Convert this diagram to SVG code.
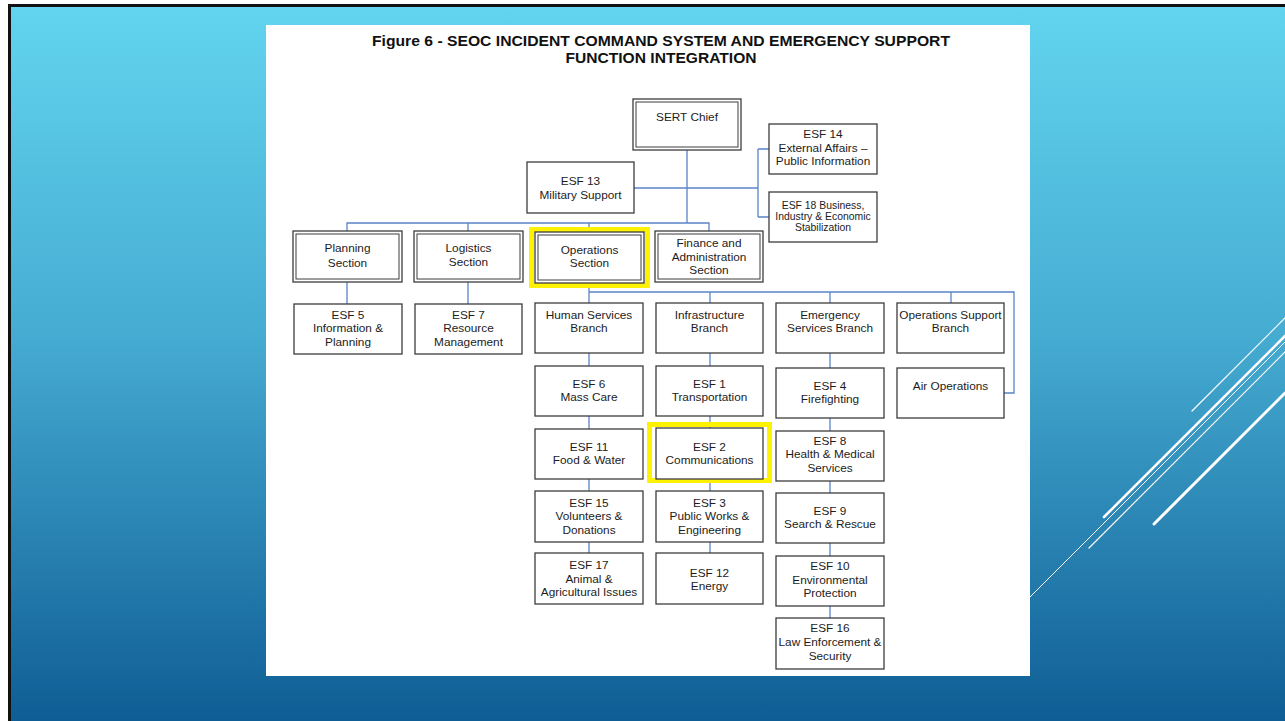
<svg xmlns="http://www.w3.org/2000/svg" width="1285" height="721" viewBox="0 0 1285 721">
<defs>
<linearGradient id="bg" x1="0" y1="0" x2="0" y2="1">
<stop offset="0" stop-color="#62d4ef"/>
<stop offset="0.45" stop-color="#46acd2"/>
<stop offset="1" stop-color="#0d5b93"/>
</linearGradient>
<style>
.box{fill:#fff;stroke:#3c3c3c;stroke-width:1.3}
.inner{fill:none;stroke:#3c3c3c;stroke-width:1}
.conn{fill:none;stroke:#5a84c8;stroke-width:1.3}
.hl{fill:none;stroke:#fff200;stroke-width:5}
text{font-family:"Liberation Sans",Arial,sans-serif;font-size:11.8px;fill:#1c1c1c;text-anchor:middle}
.small{font-size:10.4px}
.title{font-weight:bold;font-size:15px;fill:#111}
.deco{stroke:#fff;fill:none;stroke-linecap:round}
</style>
</defs>
<rect x="0" y="0" width="1285" height="721" fill="#fff"/>
<rect x="8" y="4" width="1285" height="725" fill="#111"/>
<rect x="11" y="7" width="1285" height="725" fill="url(#bg)"/>
<g id="decoration">
<line class="deco" x1="1192" y1="411" x2="1285" y2="318" stroke-width="1.2"/>
<line class="deco" x1="1104" y1="517" x2="1285" y2="336" stroke-width="2.6"/>
<line class="deco" x1="1030" y1="597" x2="1285" y2="342" stroke-width="1"/>
<line class="deco" x1="1089" y1="548" x2="1285" y2="352" stroke-width="1.2"/>
<line class="deco" x1="1154" y1="524" x2="1285" y2="393" stroke-width="3"/>
</g>
<rect x="266" y="25" width="764" height="651" fill="#fff"/>
<g id="title">
<text class="title" x="661" y="46" textLength="578" lengthAdjust="spacingAndGlyphs">Figure 6 - SEOC INCIDENT COMMAND SYSTEM AND EMERGENCY SUPPORT</text>
<text class="title" x="661" y="62.5" textLength="191" lengthAdjust="spacingAndGlyphs">FUNCTION INTEGRATION</text>
</g>
<g id="connectors">
<path class="conn" d="M687 150V223M634 188H758M758 149V217M758 149H769M758 217H769"/>
<path class="conn" d="M347 231V223H709V231M468 223V231M589 223V232"/>
<path class="conn" d="M347 282V304M468 282V304"/>
<path class="conn" d="M589 283V303M589 292H1014V393H1004M710 292V303M830 292V303M951 292V303"/>
<path class="conn" d="M589 353V366M589 416V429M589 479V491M589 542V553"/>
<path class="conn" d="M710 353V366M710 416V428M710 479V491M710 542V553"/>
<path class="conn" d="M830 353V368M830 418V431M830 481V493M830 543V556M830 606V618"/>
</g>
<g id="sert-chief"><rect class="box" x="633" y="99" width="108" height="51"/><rect class="inner" x="636" y="102" width="102" height="45"/><text x="687" y="121">SERT Chief</text></g>
<g id="esf14"><rect class="box" x="769" y="124" width="108" height="50"/><text x="823" y="138">ESF 14</text><text x="823" y="152">External Affairs –</text><text x="823" y="165">Public Information</text></g>
<g id="esf13"><rect class="box" x="527" y="162" width="107" height="51"/><text x="580.5" y="185">ESF 13</text><text x="580.5" y="199">Military Support</text></g>
<g id="esf18"><rect class="box" x="769" y="192" width="108" height="50"/><text class="small" x="823" y="209">ESF 18 Business,</text><text class="small" x="823" y="220">Industry &amp; Economic</text><text class="small" x="823" y="231">Stabilization</text></g>
<g id="planning"><rect class="box" x="293" y="231" width="109" height="51"/><rect class="inner" x="296" y="234" width="103" height="45"/><text x="347.5" y="252">Planning</text><text x="347.5" y="267">Section</text></g>
<g id="logistics"><rect class="box" x="414" y="231" width="109" height="51"/><rect class="inner" x="417" y="234" width="103" height="45"/><text x="468.5" y="252">Logistics</text><text x="468.5" y="266">Section</text></g>
<g id="operations"><rect class="hl" x="531.5" y="229.5" width="116" height="56"/><rect class="box" x="535" y="232" width="109" height="51"/><rect class="inner" x="538" y="235" width="103" height="45"/><text x="589.5" y="254">Operations</text><text x="589.5" y="267">Section</text></g>
<g id="finance"><rect class="box" x="655" y="231" width="108" height="51"/><rect class="inner" x="658" y="234" width="102" height="45"/><text x="709" y="247">Finance and</text><text x="709" y="261">Administration</text><text x="709" y="274">Section</text></g>
<g id="esf5"><rect class="box" x="294" y="304" width="108" height="50"/><text x="348" y="319">ESF 5</text><text x="348" y="332">Information &amp;</text><text x="348" y="346">Planning</text></g>
<g id="esf7"><rect class="box" x="415" y="304" width="107" height="50"/><text x="468.5" y="319">ESF 7</text><text x="468.5" y="332">Resource</text><text x="468.5" y="346">Management</text></g>
<g id="human-services"><rect class="box" x="535" y="303" width="108" height="50"/><text x="589" y="319">Human Services</text><text x="589" y="332">Branch</text></g>
<g id="infrastructure"><rect class="box" x="656" y="303" width="107" height="50"/><text x="709.5" y="319">Infrastructure</text><text x="709.5" y="332">Branch</text></g>
<g id="emergency-services"><rect class="box" x="776" y="303" width="108" height="50"/><text x="830" y="319">Emergency</text><text x="830" y="332">Services Branch</text></g>
<g id="ops-support"><rect class="box" x="897" y="303" width="107" height="50"/><text x="950.5" y="319">Operations Support</text><text x="950.5" y="332">Branch</text></g>
<g id="esf6"><rect class="box" x="535" y="366" width="108" height="50"/><text x="589" y="388">ESF 6</text><text x="589" y="401">Mass Care</text></g>
<g id="esf1"><rect class="box" x="656" y="366" width="107" height="50"/><text x="709.5" y="388">ESF 1</text><text x="709.5" y="401">Transportation</text></g>
<g id="esf4"><rect class="box" x="776" y="368" width="108" height="50"/><text x="830" y="390">ESF 4</text><text x="830" y="403">Firefighting</text></g>
<g id="air-operations"><rect class="box" x="897" y="368" width="107" height="50"/><text x="950.5" y="390">Air Operations</text></g>
<g id="esf11"><rect class="box" x="535" y="429" width="108" height="50"/><text x="589" y="451">ESF 11</text><text x="589" y="464">Food &amp; Water</text></g>
<g id="esf2"><rect class="hl" x="649.5" y="424.5" width="120" height="56"/><rect class="box" x="656" y="428" width="107" height="51"/><text x="709.5" y="451">ESF 2</text><text x="709.5" y="464">Communications</text></g>
<g id="esf8"><rect class="box" x="776" y="431" width="108" height="50"/><text x="830" y="445">ESF 8</text><text x="830" y="458">Health &amp; Medical</text><text x="830" y="472">Services</text></g>
<g id="esf15"><rect class="box" x="535" y="491" width="108" height="51"/><text x="589" y="507">ESF 15</text><text x="589" y="520">Volunteers &amp;</text><text x="589" y="534">Donations</text></g>
<g id="esf3"><rect class="box" x="656" y="491" width="107" height="51"/><text x="709.5" y="507">ESF 3</text><text x="709.5" y="520">Public Works &amp;</text><text x="709.5" y="534">Engineering</text></g>
<g id="esf9"><rect class="box" x="776" y="493" width="108" height="50"/><text x="830" y="515">ESF 9</text><text x="830" y="528">Search &amp; Rescue</text></g>
<g id="esf17"><rect class="box" x="535" y="553" width="108" height="51"/><text x="589" y="569">ESF 17</text><text x="589" y="583">Animal &amp;</text><text x="589" y="596">Agricultural Issues</text></g>
<g id="esf12"><rect class="box" x="656" y="553" width="107" height="51"/><text x="709.5" y="577">ESF 12</text><text x="709.5" y="590">Energy</text></g>
<g id="esf10"><rect class="box" x="776" y="556" width="108" height="50"/><text x="830" y="570">ESF 10</text><text x="830" y="584">Environmental</text><text x="830" y="597">Protection</text></g>
<g id="esf16"><rect class="box" x="776" y="618" width="108" height="51"/><text x="830" y="632">ESF 16</text><text x="830" y="646">Law Enforcement &amp;</text><text x="830" y="660">Security</text></g>
</svg>
